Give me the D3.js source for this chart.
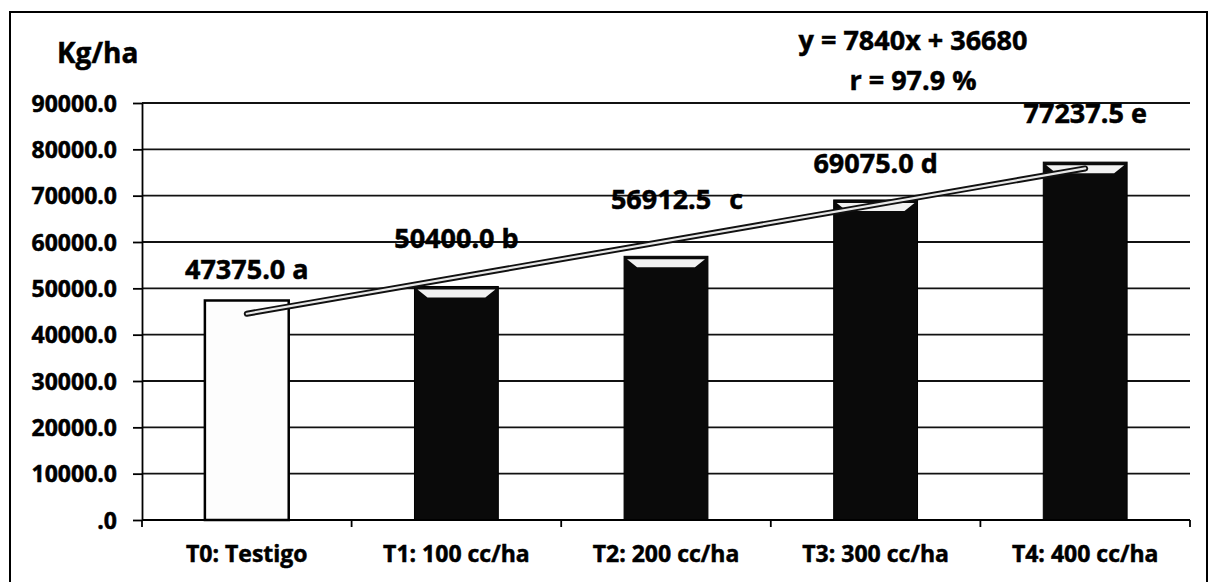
<!DOCTYPE html>
<html>
<head>
<meta charset="utf-8">
<script src="https://cdn.jsdelivr.net/npm/d3@7"></script>
<style>
  html, body { margin: 0; padding: 0; background: #fff; }
  text { font-family: "Open Sans", sans-serif; font-weight: 700; fill: #000; stroke: #000; stroke-width: 0.5px; }
</style>
</head>
<body>
<svg id="chart"></svg>
<script>
const categories = ["T0: Testigo", "T1: 100 cc/ha", "T2: 200 cc/ha", "T3: 300 cc/ha", "T4: 400 cc/ha"];
const yields = [47375.0, 50400.0, 56912.5, 69075.0, 77237.5];
const letters = ["a", "b", "c", "d", "e"];
const yTicks = [0, 10000, 20000, 30000, 40000, 50000, 60000, 70000, 80000, 90000];
const equationLines = ["y = 7840x + 36680", "r = 97.9 %"];
const yTitle = "Kg/ha";

// hand-placed label offsets (px) like in the original sheet
const labelDy = [-21, -38, -47, -27, -39];
const labelDx = [0, 0, 11, 0, 0];
const letterGap = [7, 7, 18, 7, 7];

const width = 1210;
const height = 582;
const margin = { top: 103, right: 20, bottom: 62, left: 142 };

const svg = d3.select("#chart")
  .attr("width", width)
  .attr("height", height)
  .style("display", "block");

svg.append("rect")
  .attr("x", 10).attr("y", 12)
  .attr("width", 1197).attr("height", 590)
  .attr("fill", "#fff")
  .attr("stroke", "#000")
  .attr("stroke-width", 2);

const x = d3.scaleBand()
  .domain(categories)
  .range([margin.left, 1190])
  .paddingInner(0.6)
  .paddingOuter(0.3);

const y = d3.scaleLinear()
  .domain([0, 90000])
  .range([height - margin.bottom, margin.top]);

const fmt = d3.format(".1f");
const tickFmt = d => fmt(d).replace(/^0\./, ".");

// gridlines
svg.append("g")
  .selectAll("line")
  .data(yTicks.filter(d => d > 0))
  .join("line")
  .attr("x1", margin.left)
  .attr("x2", 1190)
  .attr("y1", d => y(d))
  .attr("y2", d => y(d))
  .attr("stroke", "#111")
  .attr("stroke-width", 1.8);

// Y-Axis
const yAxis = svg.append("g")
  .attr("transform", `translate(${margin.left},0)`)
  .call(d3.axisLeft(y).tickValues(yTicks).tickFormat(tickFmt).tickSize(9).tickSizeOuter(0).tickPadding(16));
yAxis.select(".domain").attr("stroke", "#000").attr("stroke-width", 1.8);
yAxis.selectAll(".tick line").attr("stroke", "#000").attr("stroke-width", 1.8);
yAxis.selectAll("text")
  .attr("font-size", 23)
  .attr("font-family", "Open Sans")
  .attr("font-weight", 700)
  .attr("fill", "#000")
  .attr("dy", "0.36em");

// bars
svg.append("g")
  .selectAll("rect")
  .data(yields)
  .join("rect")
  .attr("x", (d, i) => x(categories[i]))
  .attr("y", d => y(d))
  .attr("width", x.bandwidth())
  .attr("height", d => y(0) - y(d))
  .attr("fill", (d, i) => i === 0 ? "#fdfdfd" : "#0a0a0a")
  .attr("stroke", "#000")
  .attr("stroke-width", (d, i) => i === 0 ? 2.5 : 1);

// light cap on top of the dark bars
svg.append("g")
  .selectAll("path")
  .data(yields.slice(1))
  .join("path")
  .attr("d", (d, i) => {
    const x0 = x(categories[i + 1]);
    const w = x.bandwidth();
    const t = y(d);
    return `M${x0 + 3},${t + 3}L${x0 + w - 3},${t + 3}L${x0 + w - 13},${t + 11}L${x0 + 13},${t + 11}Z`;
  })
  .attr("fill", "#f2f2f2");

// X-Axis
const x0 = y(0);
svg.append("line")
  .attr("x1", margin.left).attr("x2", 1190)
  .attr("y1", x0).attr("y2", x0)
  .attr("stroke", "#000").attr("stroke-width", 1.8);

svg.append("g")
  .selectAll("line")
  .data(d3.range(categories.length + 1))
  .join("line")
  .attr("x1", i => margin.left + i * x.step())
  .attr("x2", i => margin.left + i * x.step())
  .attr("y1", x0)
  .attr("y2", x0 + 7)
  .attr("stroke", "#000")
  .attr("stroke-width", 1.8);

svg.append("g")
  .selectAll("text")
  .data(categories)
  .join("text")
  .attr("x", d => x(d) + x.bandwidth() / 2)
  .attr("y", 562)
  .attr("text-anchor", "middle")
  .attr("font-size", 23)
  .text(d => d);

// trend line (least squares on the bar values)
const xs = yields.map((d, i) => i + 1);
const mx = d3.mean(xs);
const my = d3.mean(yields);
const slope = d3.sum(xs, (v, i) => (v - mx) * (yields[i] - my)) / d3.sum(xs, v => (v - mx) ** 2);
const intercept = my - slope * mx;
const trend = xs.map((v, i) => ({ cx: x(categories[i]) + x.bandwidth() / 2, v: slope * v + intercept }));
const trendLine = d3.line().x(d => d.cx).y(d => y(d.v));
const ends = [trend[0], trend[trend.length - 1]];

svg.append("path")
  .datum(ends)
  .attr("d", trendLine)
  .attr("fill", "none")
  .attr("stroke", "#111")
  .attr("stroke-width", 6)
  .attr("stroke-linecap", "round");
svg.append("path")
  .datum(ends)
  .attr("d", trendLine)
  .attr("fill", "none")
  .attr("stroke", "#e8e8e8")
  .attr("stroke-width", 2.2)
  .attr("stroke-linecap", "round");

// value labels
const lbl = svg.append("g")
  .selectAll("text")
  .data(yields)
  .join("text")
  .attr("x", (d, i) => x(categories[i]) + x.bandwidth() / 2 + labelDx[i])
  .attr("y", (d, i) => y(d) + labelDy[i])
  .attr("text-anchor", "middle")
  .attr("font-size", 27);
lbl.append("tspan").text(d => fmt(d));
lbl.append("tspan").attr("dx", (d, i) => letterGap[i]).text((d, i) => letters[i]);

// equation
svg.append("g")
  .selectAll("text")
  .data(equationLines)
  .join("text")
  .attr("x", 913)
  .attr("y", (d, i) => 50 + i * 40)
  .attr("text-anchor", "middle")
  .attr("font-size", 27)
  .text(d => d);

// y title
svg.append("text")
  .attr("x", 57)
  .attr("y", 63)
  .attr("font-size", 28)
  .text(yTitle);
</script>
</body>
</html>
